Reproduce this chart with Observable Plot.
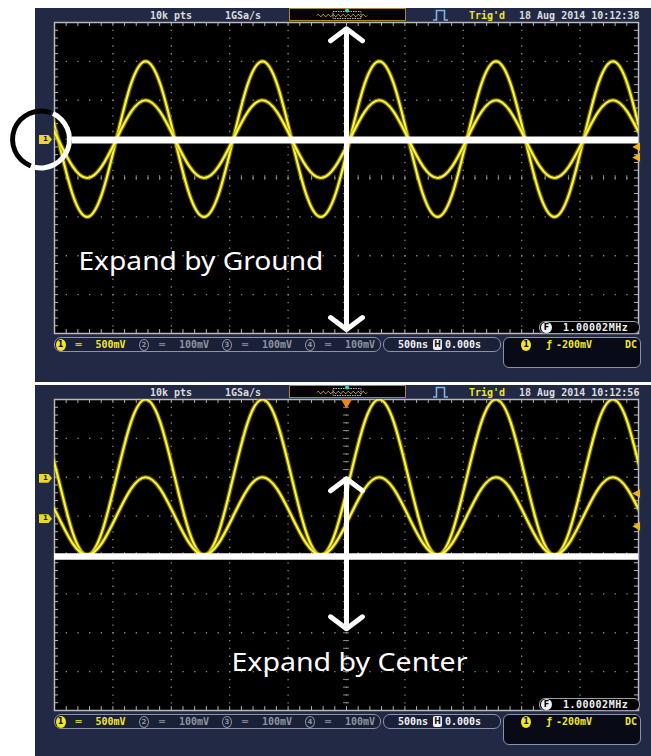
<!DOCTYPE html>
<html>
<head>
<meta charset="utf-8">
<script src="https://cdn.jsdelivr.net/npm/d3@7"></script>
<script src="https://cdn.jsdelivr.net/npm/@observablehq/plot@0.6"></script>
<style>
html,body{margin:0;padding:0;background:#fff;}
#page{position:relative;width:651px;height:756px;overflow:hidden;background:#fff;}
.panel{position:absolute;left:35px;width:616px;background:#222944;z-index:0;}
.t{position:absolute;white-space:nowrap;font-family:"DejaVu Sans Mono",monospace;font-weight:bold;font-size:10px;line-height:12px;z-index:2;}
.box{position:absolute;box-sizing:border-box;z-index:2;}
.badge{position:absolute;box-sizing:border-box;z-index:3;font-family:"DejaVu Sans",sans-serif;font-weight:bold;text-align:center;}
</style>
</head>
<body>
<div id="page"></div>
<script>
// ---- data (time in µs, screen level in V at 500 mV/div) ----
const timesUs = [
  -2.595,-2.47,-2.345,-2.22,-2.095,-1.97,-1.845,-1.72,
  -1.595,-1.47,-1.345,-1.22,-1.095,-0.97,-0.845,-0.72,
  -0.595,-0.47,-0.345,-0.22,-0.095,0.03,0.155,0.28,
  0.405,0.53,0.655,0.78,0.905,1.03,1.155,1.28,
  1.405,1.53,1.655,1.78,1.905,2.03,2.155,2.28,
  2.405,2.53,2.655];
const groundLargeV = [
  1.21,0.5,-0.21,-0.5,-0.21,0.5,1.21,1.5,
  1.21,0.5,-0.21,-0.5,-0.21,0.5,1.21,1.5,
  1.21,0.5,-0.21,-0.5,-0.21,0.5,1.21,1.5,
  1.21,0.5,-0.21,-0.5,-0.21,0.5,1.21,1.5,
  1.21,0.5,-0.21,-0.5,-0.21,0.5,1.21,1.5,
  1.21,0.5,-0.21];
const groundSmallV = [
  0.85,0.5,0.15,0,0.15,0.5,0.85,1.0,
  0.85,0.5,0.15,0,0.15,0.5,0.85,1.0,
  0.85,0.5,0.15,0,0.15,0.5,0.85,1.0,
  0.85,0.5,0.15,0,0.15,0.5,0.85,1.0,
  0.85,0.5,0.15,0,0.15,0.5,0.85,1.0,
  0.85,0.5,0.15];
const centerLargeV = [
  1.71,1.0,0.29,0,0.29,1.0,1.71,2.0,
  1.71,1.0,0.29,0,0.29,1.0,1.71,2.0,
  1.71,1.0,0.29,0,0.29,1.0,1.71,2.0,
  1.71,1.0,0.29,0,0.29,1.0,1.71,2.0,
  1.71,1.0,0.29,0,0.29,1.0,1.71,2.0,
  1.71,1.0,0.29];
const centerSmallV = [
  0.85,0.5,0.15,0,0.15,0.5,0.85,1.0,
  0.85,0.5,0.15,0,0.15,0.5,0.85,1.0,
  0.85,0.5,0.15,0,0.15,0.5,0.85,1.0,
  0.85,0.5,0.15,0,0.15,0.5,0.85,1.0,
  0.85,0.5,0.15,0,0.15,0.5,0.85,1.0,
  0.85,0.5,0.15];
const xDivisions = [-2,-1.5,-1,-0.5,0,0.5,1,1.5,2];
const yDivisions = [-1.5,-1,-0.5,0,0.5,1,1.5];
const groundTags = [0.49];
const centerTags = [0.98, 0.46];
const groundTrigMarks = [0.40, 0.265];
const centerTrigMarks = [0.79, 0.37];
const labels = ["Expand by Ground", "Expand by Center"];
const headerLabels = ["10k pts", "1GSa/s", "Trig'd"];
const dateLabel = "18 Aug 2014";
const timeStamps = ["10:12:38", "10:12:56"];
const channelIds = ["1","2","3","4"];
const channelScales = ["500mV","100mV","100mV","100mV"];
const timebase = ["500ns", "0.000s"];
const triggerInfo = ["-200mV", "DC"];
const freqLabel = "1.00002MHz";

const xMinor = d3.range(-25, 26).map(k => k / 10);
const yMinor = d3.range(-20, 21).map(k => k / 10);

const page = document.getElementById("page");

function scope(cfg) {
  const H = cfg.height;
  const grey = "#8a8a8a";
  const traceMarks = cfg.traces.flatMap(vals => [
    Plot.line(timesUs, {x: timesUs, y: vals, curve: "natural", stroke: "#a89800", strokeWidth: 4.6, strokeOpacity: 0.6, clip: true}),
    Plot.line(timesUs, {x: timesUs, y: vals, curve: "natural", stroke: "#fbf43c", strokeWidth: 2.2, clip: true})
  ]);
  const plot = Plot.plot({
    width: 651, height: H,
    marginLeft: 54, marginRight: 13, marginTop: 22, marginBottom: H - 333,
    x: {domain: [-2.5, 2.5], axis: null},
    y: {domain: [-2, 2], axis: null},
    style: {background: "transparent", overflow: "visible"},
    marks: [
      Plot.frame({fill: "#000"}),
      Plot.ruleX(xDivisions, {stroke: grey, strokeWidth: 1.3, strokeDasharray: "1.3 6.475"}),
      Plot.ruleY(yDivisions, {stroke: grey, strokeWidth: 1.3, strokeDasharray: "1.3 10.38"}),
      Plot.ruleX(xMinor, {y1: -0.03, y2: 0.03, stroke: grey}),
      Plot.ruleY(yMinor, {x1: -0.025, x2: 0.025, stroke: grey}),
      Plot.ruleX(xMinor, {y1: 2, y2: 1.95, stroke: "#b5b5b5"}),
      Plot.ruleX(xMinor, {y1: -2, y2: -1.95, stroke: "#b5b5b5"}),
      Plot.ruleY(yMinor, {x1: -2.5, x2: -2.465, stroke: "#b5b5b5"}),
      Plot.ruleY(yMinor, {x1: 2.5, x2: 2.465, stroke: "#b5b5b5"}),
      Plot.frame({stroke: "#b9b9b9", strokeWidth: 1.5}),
      ...traceMarks,
      Plot.dot(cfg.trigMarks, {x: 2.5, y: d => d, symbol: "triangle", rotate: -90, r: 3.3, fill: "#f2b21c", dx: -1}),
      ...(cfg.trigPos ? [Plot.dot([0], {x: d => d, y: 2, symbol: "triangle", rotate: 180, r: 4, fill: "#f0821e", dy: 3})] : []),
      Plot.ruleY([cfg.lineV], {x1: cfg.lineX1, x2: 2.5, stroke: "#fff", strokeWidth: cfg.lineW}),
      Plot.arrow(cfg.arrows, {x1: "x1", y1: "y1", x2: "x2", y2: "y2", stroke: "#fff", strokeWidth: 5, headLength: 6, headAngle: 106}),
      Plot.text([cfg.label], {x: cfg.labelX, y: cfg.labelY, text: d => d, textAnchor: "start", fill: "#fff", fontSize: 25, fontFamily: "Noto Sans", fontWeight: 400})
    ]
  });
  plot.style.position = "absolute";
  plot.style.left = "0px";
  plot.style.top = cfg.top + "px";
  plot.style.zIndex = 1;
  d3.select(plot).selectAll("text").filter(function () { return this.textContent === cfg.label; })
    .attr("textLength", cfg.labelLen).attr("lengthAdjust", "spacingAndGlyphs");
  return plot;
}

function box(x, y, w, h, css) {
  const d = document.createElement("div");
  d.className = "box";
  d.style.cssText = `left:${x}px;top:${y}px;width:${w}px;height:${h}px;${css}`;
  page.appendChild(d);
  return d;
}
function txt(x, y, s, color, css = "") {
  const d = document.createElement("div");
  d.className = "t";
  d.style.cssText = `left:${x}px;top:${y}px;color:${color};${css}`;
  d.textContent = s;
  page.appendChild(d);
  return d;
}
function badge(x, y, w, h, s, css) {
  const d = document.createElement("div");
  d.className = "badge";
  d.style.cssText = `left:${x}px;top:${y}px;width:${w}px;height:${h}px;line-height:${h}px;${css}`;
  d.textContent = s;
  page.appendChild(d);
  return d;
}
function icon(x, y, w, h, inner) {
  const ns = "http://www.w3.org/2000/svg";
  const s = document.createElementNS(ns, "svg");
  s.setAttribute("width", w); s.setAttribute("height", h);
  s.style.cssText = `position:absolute;left:${x}px;top:${y}px;z-index:3;overflow:visible;`;
  s.innerHTML = inner;
  page.appendChild(s);
}

const YEL = "#f2e62a", GRY = "#8e93a0", WHT = "#dcdcdc";

function chrome(y0, stamp, tags, sy, svgTop, trigColor) {
  // header
  txt(150, y0 + 2, headerLabels[0], WHT);
  txt(225, y0 + 2, headerLabels[1], WHT);
  box(289, y0, 117, 13, "background:#040404;border:1px solid #a8862a;");
  icon(289, y0, 117, 13,
    `<path d="M28 7.5 ${"q1.25 -2.6 2.5 0 t2.5 0 ".repeat(10)}" fill="none" stroke="#c9b820" stroke-width="1"/>` +
    `<rect x="44" y="3.5" width="28" height="7" fill="none" stroke="#c8c8c8" stroke-width="0.9" stroke-dasharray="1.5 1"/>` +
    `<circle cx="58" cy="2.5" r="1.9" fill="${trigColor}"/>`);
  icon(433, y0 + 1, 15, 12, `<path d="M0 11 H3.5 V1.5 H11.5 V11 H15" fill="none" stroke="#7db3e8" stroke-width="1.6"/>`);
  txt(469, y0 + 2, headerLabels[2], YEL);
  txt(519, y0 + 2, `${dateLabel} ${stamp}`, WHT);

  // frequency counter
  box(539, y0 + 313, 101, 13, "background:#000;border:1px solid #9aa0ad;border-radius:6px;");
  badge(541, y0 + 314, 11, 11, "F", "background:#f0f0f0;color:#000;border-radius:50%;font-size:8px;");
  txt(563, y0 + 313.5, freqLabel, "#f0f0f0", "letter-spacing:0.5px;");

  // status row
  const sy0 = y0 + 329;
  box(54, sy0, 327, 15, "background:#1a2038;border:1.5px solid #8d93a6;border-radius:7px;");
  const chX = [55.5, 139, 222, 305];
  channelIds.forEach((c, i) => {
    const on = i === 0;
    const col = on ? YEL : GRY;
    badge(chX[i], sy0 + 1.5, 10, 12, c, on ? `background:${YEL};color:#111;border-radius:50%;font-size:8px;` : `border:1px solid ${GRY};color:${GRY};border-radius:50%;font-size:7px;line-height:10px;`);
    txt(chX[i] + 20, sy0 + 1.5, "═", col);
    txt(chX[i] + 40, sy0 + 1.5, channelScales[i], col);
  });
  box(383, sy0, 118, 15, "background:#1a2038;border:1.5px solid #8d93a6;border-radius:7px;");
  txt(398, sy0 + 1.5, timebase[0], "#f0f0f0");
  badge(433, sy0 + 2, 9, 11, "H", "background:#f0f0f0;color:#111;border-radius:2px;font-size:8px;");
  txt(445, sy0 + 1.5, timebase[1], "#f0f0f0");
  box(503, sy0, 138, 31, "background:#080b16;border:1.5px solid #8d93a6;border-radius:6px;");
  badge(521, sy0 + 1.5, 10, 12, channelIds[0], `background:${YEL};color:#111;border-radius:50%;font-size:8px;`);
  txt(546, sy0 + 1.5, "ƒ", YEL);
  txt(556, sy0 + 1.5, triggerInfo[0], YEL);
  txt(625, sy0 + 1.5, triggerInfo[1], YEL);

  // channel ground tags on the left
  tags.forEach(v => {
    const y = svgTop + sy.apply(v);
    badge(39, y - 4.5, 13, 9, "1", `background:#e9d82a;color:#1a1a1a;font-size:7px;clip-path:polygon(0 0,72% 0,100% 50%,72% 100%,0 100%);`);
  });
}

// panel backgrounds
const p1 = document.createElement("div"); p1.className = "panel"; p1.style.cssText = "top:8px;height:374px;"; page.appendChild(p1);
const p2 = document.createElement("div"); p2.className = "panel"; p2.style.cssText = "top:385px;height:371px;"; page.appendChild(p2);

const topPlot = scope({
  top: 0, height: 382,
  traces: [groundLargeV, groundSmallV],
  trigMarks: groundTrigMarks, trigPos: false,
  lineV: 0.49, lineX1: -2.346, lineW: 7,
  arrows: [{x1: 0, y1: 0, x2: 0, y2: 1.92}, {x1: 0, y1: 0, x2: 0, y2: -1.95}],
  label: labels[0], labelX: -2.295, labelY: -1.085, labelLen: 245
});
page.appendChild(topPlot);

const botPlot = scope({
  top: 377, height: 379,
  traces: [centerLargeV, centerSmallV],
  trigMarks: centerTrigMarks, trigPos: true,
  lineV: -0.02, lineX1: -2.5, lineW: 6.5,
  arrows: [{x1: 0, y1: 0, x2: 0, y2: 0.98}, {x1: 0, y1: 0, x2: 0, y2: -0.95}],
  label: labels[1], labelX: -0.985, labelY: -1.395, labelLen: 236
});
page.appendChild(botPlot);

// highlight ring around the ground marker (top panel)
{
  const sx = topPlot.scale("x"), sy = topPlot.scale("y");
  const cx = sx.apply(-2.5) - 13, cy = sy.apply(0.49);
  const g = d3.select(topPlot).append("g").attr("transform", `translate(${cx},${cy})`);
  const arc = d3.arc();
  g.append("path").attr("fill", "#fff").attr("d", arc({innerRadius: 26, outerRadius: 31, startAngle: 25 * Math.PI / 180, endAngle: 194 * Math.PI / 180}));
  g.append("path").attr("fill", "#000").attr("d", arc({innerRadius: 26, outerRadius: 31, startAngle: 201 * Math.PI / 180, endAngle: 381 * Math.PI / 180}));
}

chrome(8, timeStamps[0], groundTags, topPlot.scale("y"), 0, "#38d8c8");
chrome(385, timeStamps[1], centerTags, botPlot.scale("y"), 377, "#38d8c8");
</script>
</body>
</html>
